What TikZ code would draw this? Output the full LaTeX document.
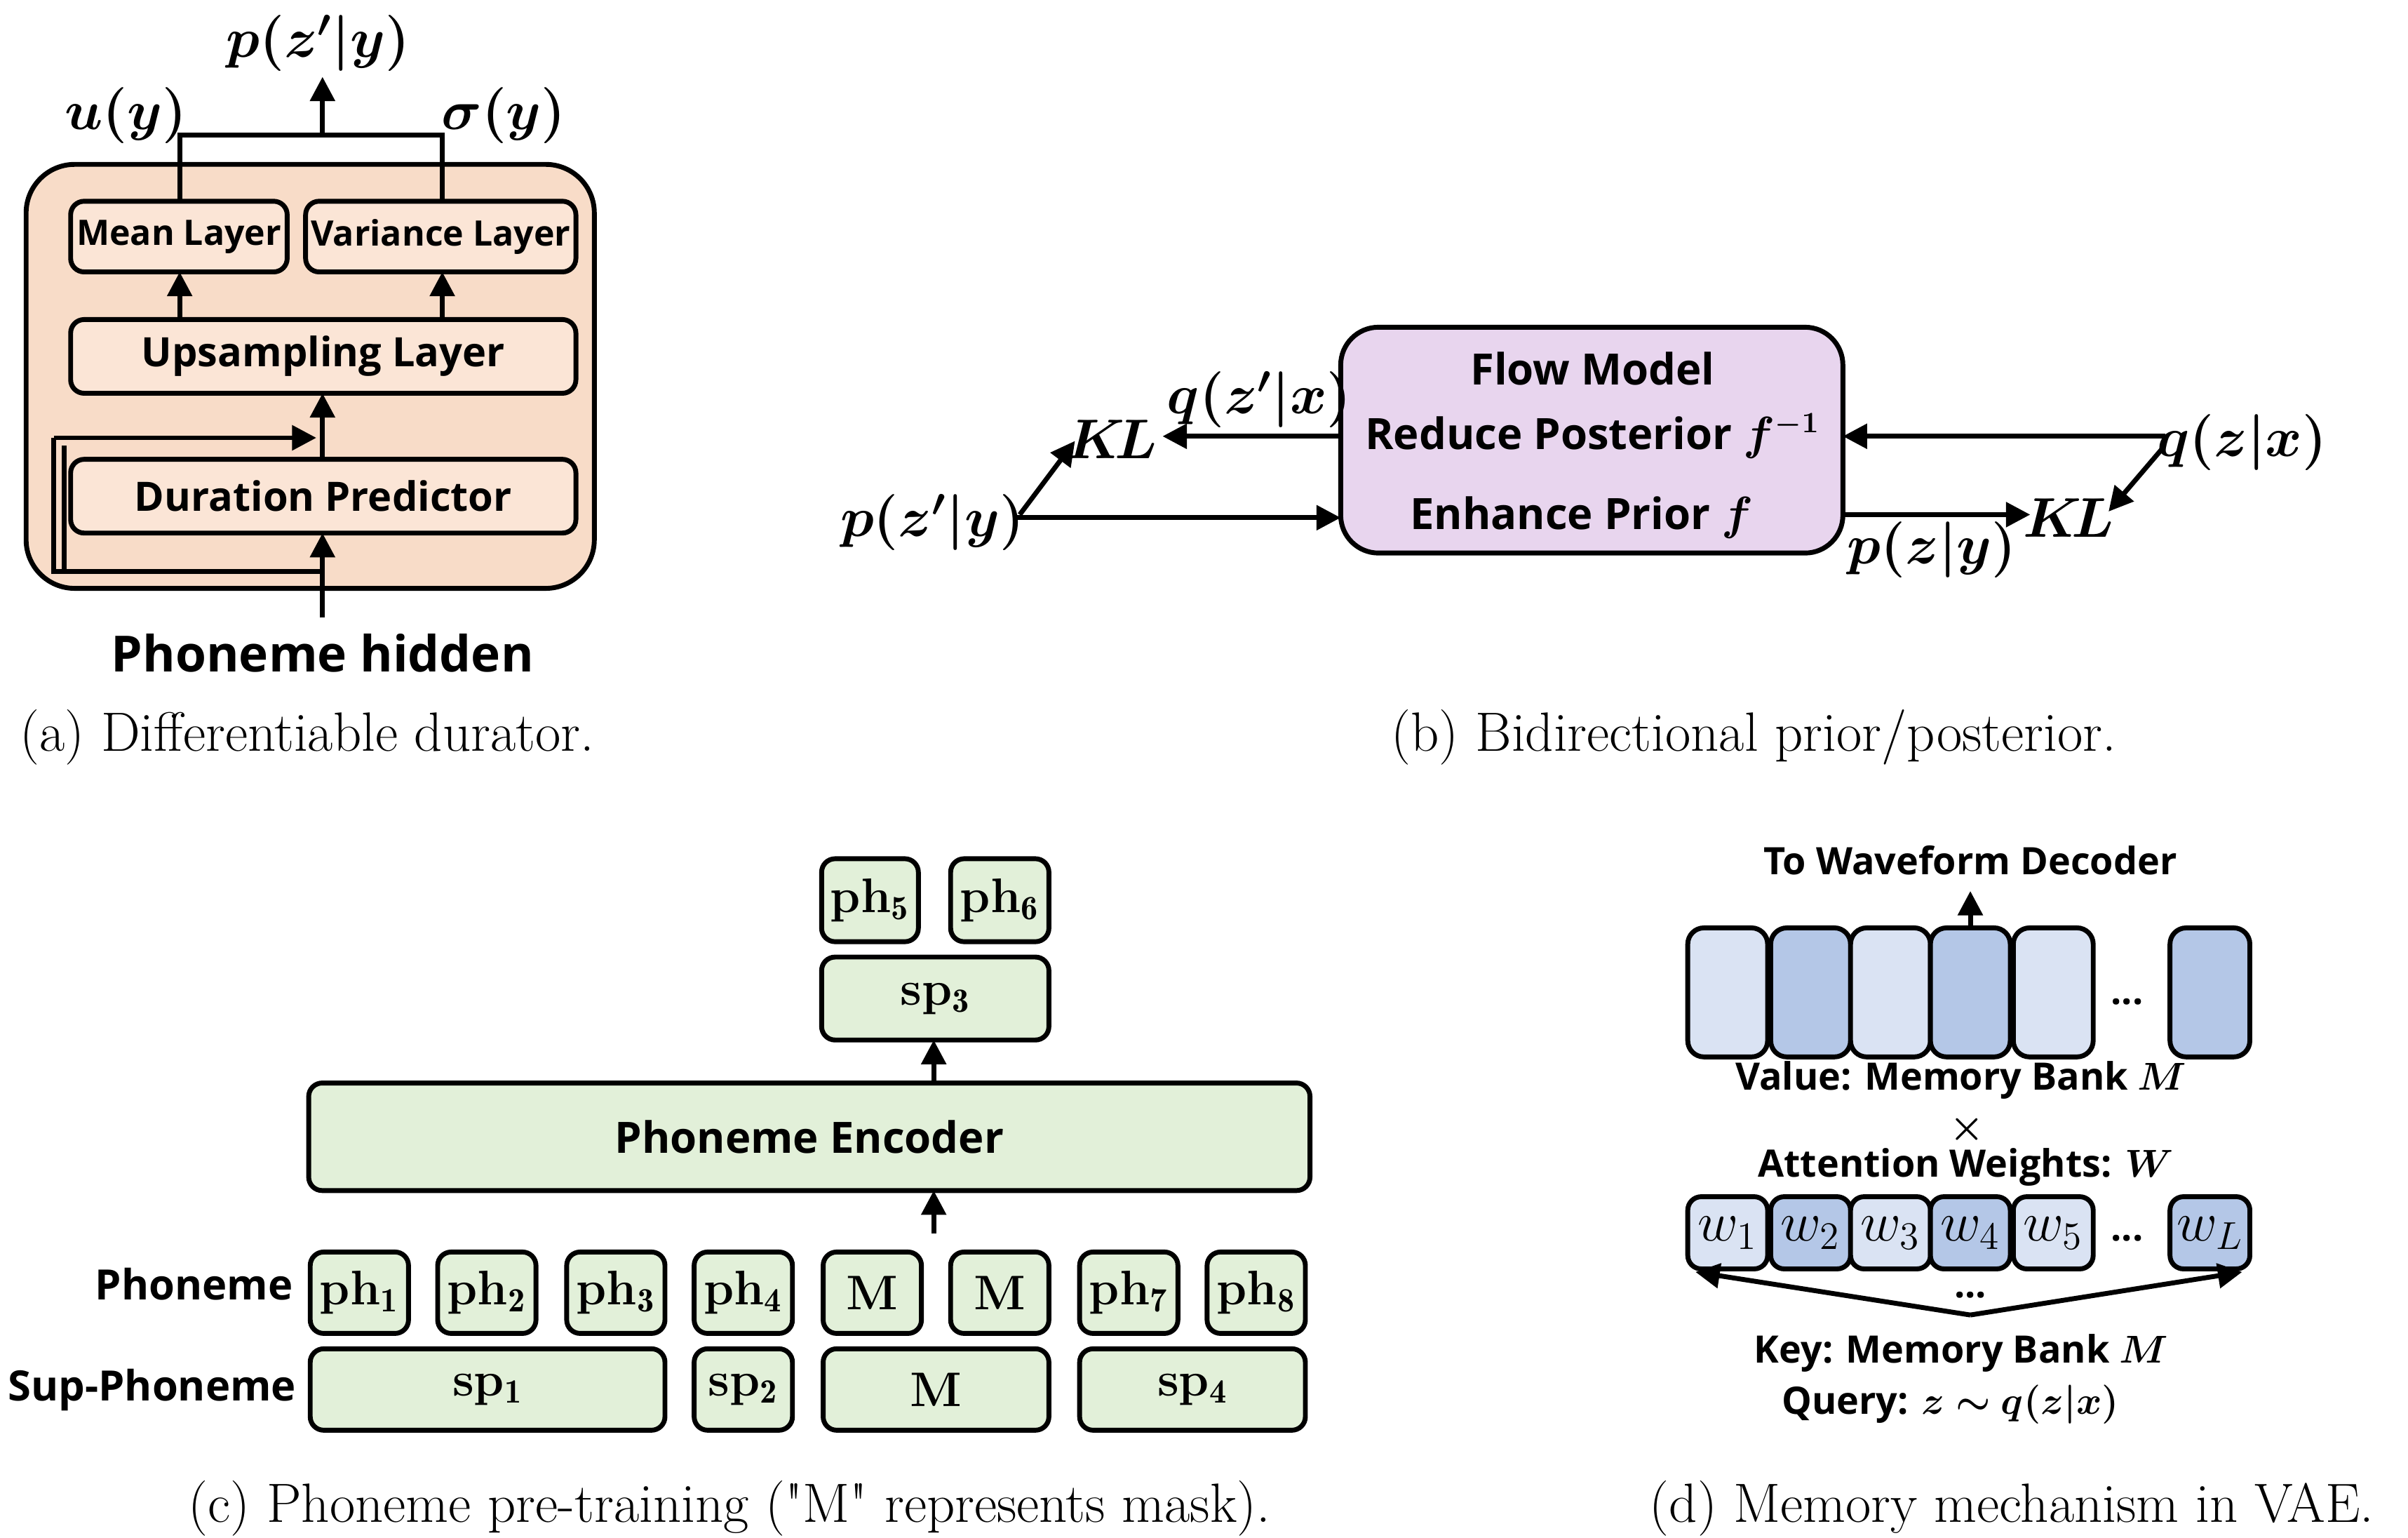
\documentclass[tikz,border=0pt]{standalone}
\usepackage{fontspec}
\usepackage{bm}
\newfontfamily\osans{Open Sans}
\usetikzlibrary{arrows.meta}
\begin{document}
\begin{tikzpicture}[x=0.02cm,y=-0.02cm,
  bx/.style={draw,line width=1.8pt,rounded corners=5pt,inner sep=0pt},
  ar/.style={line width=1.8pt,-{Triangle[length=9pt,width=9pt]}},
  ln/.style={line width=1.8pt},
  sf/.style={font=\osans\bfseries\fontsize{#1}{#1}\selectfont},
  mt/.style={font=\fontsize{20}{20}\selectfont},
  captxt/.style={font=\fontsize{20.5}{20.5}\selectfont},
  ph/.style={font=\bfseries\fontsize{18}{18}\selectfont}]
\useasboundingbox (0,0) rectangle (1568,1001);
\definecolor{peach}{HTML}{F8DCC8}\definecolor{peachl}{HTML}{FBE5D6}
\definecolor{lav}{HTML}{E8D5EE}\definecolor{grn}{HTML}{E2F0D9}
\definecolor{bl}{HTML}{DAE3F3}\definecolor{bd}{HTML}{B4C7E7}
% (a)
\draw[bx,fill=peach,rounded corners=18pt] (17,107) rectangle (387,383);
\draw[bx,fill=peachl] (46,131) rectangle node[sf=13](mean){Mean Layer} (187,177);
\draw[bx,fill=peachl] (199,131) rectangle node[sf=13](var){Variance Layer} (375,177);
\draw[bx,fill=peachl] (46,208) rectangle node[sf=15](up){Upsampling Layer} (375,256);
\draw[bx,fill=peachl] (46,299) rectangle node[sf=15](dur){Duration Predictor} (375,347);
\node[sf=18.5] (ph) at (210,425) {Phoneme hidden};
\draw[ar] (210,402) -- (210,347);
\draw[ar] (210,299) -- (210,256);
\draw[ar] (117,208) -- (117,177);
\draw[ar] (288,208) -- (288,177);
\draw[ln] (117,131) -- (117,88) -- (288,88) -- (288,131);
\draw[ar] (210,88) -- (210,50);
\draw[ln] (210,372) -- (35,372) -- (35,285);
\draw[ar] (35,285) -- (206,285);
\draw[ln] (42,372) -- (42,290);
\node[mt] at (207,28) {$\bm{p(z'|y)}$};
\node[mt] at (82,75) {$\bm{u(y)}$};
\node[mt] at (328,75) {$\bm{\sigma(y)}$};
\node[captxt] at (200,480) {(a) Differentiable durator.};
% (b)
\draw[bx,fill=lav,rounded corners=14pt] (873,213) rectangle (1200,360);
\node[sf=16] at (1037,240) {Flow Model};
\node[sf=16] at (1037,284) {Reduce Posterior $\bm{f^{-1}}$};
\node[sf=16] at (1030,337) {Enhance Prior $\bm{f}$};
\node[mt] (kl1) at (724,286) {$\bm{K\!L}$};
\node[mt] at (820,260) {$\bm{q(z'|x)}$};
\draw[ar] (873,284) -- (757,284);
\node[mt] (pzy) at (607,340) {$\bm{p(z'|y)}$};
\draw[ar] (662,337) -- (873,337);
\draw[ar] (664,335) -- (700,287);
\node[mt] (qzx) at (1460,288) {$\bm{q(z|x)}$};
\draw[ar] (1410,284) -- (1200,284);
\draw[ar] (1408,292) -- (1373,333);
\draw[ar] (1200,335) -- (1322,335);
\node[mt] (kl2) at (1347,337) {$\bm{K\!L}$};
\node[mt] at (1258,358) {$\bm{p(z|y)}$};
\node[captxt] at (1142,480) {(b) Bidirectional prior/posterior.};
% (c)
\foreach \a/\b/\t/\n in {535/598/ph$_{\mathbf{5}}$/c5,619/683/ph$_{\mathbf{6}}$/c6}
  \draw[bx,fill=grn] (\a,559) rectangle node[ph](\n){\t} (\b,613);
\draw[bx,fill=grn] (535,623) rectangle node[ph](sp3){sp$_{\mathbf{3}}$} (683,677);
\draw[bx,fill=grn] (201,705) rectangle node[sf=16](enc){Phoneme Encoder} (853,775);
\draw[ar] (608,705) -- (608,677);
\draw[ar] (608,803) -- (608,775);
\foreach \a/\t/\n in {202/ph$_{\mathbf{1}}$/p1,285/ph$_{\mathbf{2}}$/p2,369/ph$_{\mathbf{3}}$/p3,452/ph$_{\mathbf{4}}$/p4,536/M/p5,619/M/p6,703/ph$_{\mathbf{7}}$/p7,786/ph$_{\mathbf{8}}$/p8}
  \draw[bx,fill=grn] (\a,815) rectangle node[ph](\n){\t} (\a+64,868);
\foreach \a/\b/\t/\n in {202/433/sp$_{\mathbf{1}}$/s1,452/516/sp$_{\mathbf{2}}$/s2,536/683/M/s3,703/850/sp$_{\mathbf{4}}$/s4}
  \draw[bx,fill=grn] (\a,878) rectangle node[ph](\n){\t} (\b,931);
\node[sf=15.5,anchor=east] at (197,836) {Phoneme};
\node[sf=15.5,anchor=east] at (199,905) {Sup-Phoneme};
\node[captxt] at (475,982) {(c) Phoneme pre-training (\textquotedbl M\textquotedbl{} represents mask).};
% (d)
\foreach \a/\c/\n in {1099/bl/v1,1153/bd/v2,1205/bl/v3,1257/bd/v4,1311/bl/v5,1413/bd/v6}
  \draw[line width=1.8pt,rounded corners=6pt,fill=\c] (\a,604) rectangle (\a+52,688) coordinate (\n);
\node[sf=14] at (1385,652) {...};
\draw[ar] (1283,604) -- (1283,580);
\node[sf=14] at (1283,560) {To Waveform Decoder};
\node[sf=14] at (1277,703) {Value: Memory Bank $\bm{M}$};
\node[font=\fontsize{15}{15}\selectfont,inner sep=0pt] at (1281,735) {$\bm{\times}$};
\node[sf=14] at (1280,760) {Attention Weights: $\bm{W}$};
\foreach \a/\c/\t/\n in {1099/bl/1/w1,1153/bd/2/w2,1205/bl/3/w3,1257/bd/4/w4,1311/bl/5/w5,1413/bd/L/w6}
  \draw[line width=1.8pt,rounded corners=5pt,fill=\c] (\a,779) rectangle node[mt](\n){$w_{\t}$} (\a+52,826);
\node[sf=14] at (1385,806) {...};
\coordinate (kq) at (1283,856);
\draw[ar] (kq) -- (1104,828);
\draw[ar] (kq) -- (1460,828);
\node[sf=14] at (1283,843) {...};
\node[sf=14] at (1277,881) {Key: Memory Bank $\bm{M}$};
\node[sf=14] at (1270,914) {Query: $\bm{z\sim q(z|x)}$};
\node[captxt] at (1310,982) {(d) Memory mechanism in VAE.};
\end{tikzpicture}
\end{document}
